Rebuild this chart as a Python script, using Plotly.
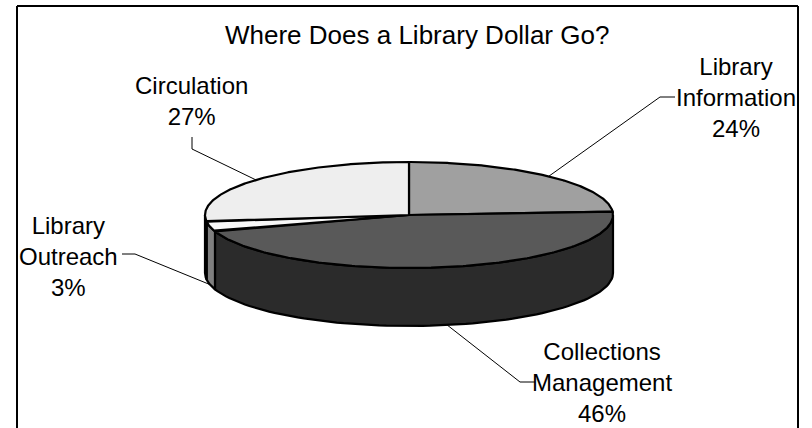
import numpy as np
import plotly.graph_objects as go

# Budget shares (percent of each library dollar)
categories = ["Library Information", "Collections Management", "Library Outreach", "Circulation"]
label_lines = [["Library", "Information"], ["Collections", "Management"], ["Library", "Outreach"], ["Circulation"]]
shares = [24, 46, 3, 27]
top_colors = ["#A0A0A0", "#595959", "#F8F8F8", "#EEEEEE"]
side_colors = ["#505050", "#2B2B2B", "#7F7F7F", "#777777"]

title_text = "Where Does a Library Dollar Go?"

# Canvas / pie geometry (pixel-like coordinates, y grows downward)
W, H = 812, 428
CX, CY, RX, RY, DEPTH = 409, 215, 204, 53, 58
FONT = "Arial, 'Liberation Sans', sans-serif"

# label block centres and leader elbows (label edge point, elbow point)
label_pos = [(736, 97), (602, 382), (68, 256), (191, 101)]
leader_elbow = [((675, 97), (660, 97)), ((535, 382), (520, 382)),
                ((122, 254), (135, 254)), ((192, 137), (192, 149))]


def ell(theta_deg, drop=0.0):
    t = np.radians(theta_deg)
    return CX + RX * np.sin(t), CY - RY * np.cos(t) + drop


total = float(sum(shares))
bounds = np.concatenate([[0.0], np.cumsum(shares) / total * 360.0])

fig = go.Figure()

# side walls (front half only: 90..270 degrees clockwise from 12 o'clock)
for i in range(len(shares)):
    a0, a1 = max(bounds[i], 90.0), min(bounds[i + 1], 270.0)
    if a1 <= a0:
        continue
    th = np.linspace(a0, a1, 80)
    xt, yt = ell(th)
    xb, yb = ell(th[::-1], DEPTH)
    fig.add_trace(go.Scatter(
        x=np.concatenate([xt, xb, xt[:1]]), y=np.concatenate([yt, yb, yt[:1]]),
        mode="lines", fill="toself", fillcolor=side_colors[i],
        line=dict(color="black", width=2.2), hoverinfo="skip", showlegend=False))

# top faces
for i in range(len(shares)):
    th = np.linspace(bounds[i], bounds[i + 1], 200)
    xt, yt = ell(th)
    fig.add_trace(go.Scatter(
        x=np.concatenate([[CX], xt, [CX]]), y=np.concatenate([[CY], yt, [CY]]),
        mode="lines", fill="toself", fillcolor=top_colors[i],
        line=dict(color="black", width=2.2), hoverinfo="skip", showlegend=False))

annotations = []
for i, name in enumerate(categories):
    mid = (bounds[i] + bounds[i + 1]) / 2.0
    front = 90.0 < mid < 270.0
    ax, ay = ell(mid, DEPTH if front else 0.0)
    (ex, ey), (kx, ky) = leader_elbow[i]
    fig.add_trace(go.Scatter(
        x=[ex, kx, ax], y=[ey, ky, ay], mode="lines",
        line=dict(color="black", width=1), hoverinfo="skip", showlegend=False))
    txt = "<br>".join(label_lines[i] + [f"{shares[i]}%"])
    lx, ly = label_pos[i]
    annotations.append(dict(x=lx, y=ly, xref="x", yref="y", text=txt, showarrow=False,
                            xanchor="center", yanchor="middle",
                            font=dict(family=FONT, size=24, color="black")))

annotations.append(dict(x=417, y=35, xref="x", yref="y", text=title_text, showarrow=False,
                        xanchor="center", yanchor="middle",
                        font=dict(family=FONT, size=26, color="black")))

# chart frame (left, top, right edges)
shapes = [
    dict(type="line", xref="x", yref="y", x0=17, x1=17, y0=6, y1=H + 5, line=dict(color="black", width=2)),
    dict(type="line", xref="x", yref="y", x0=17, x1=798, y0=6, y1=6, line=dict(color="black", width=2)),
    dict(type="line", xref="x", yref="y", x0=798, x1=798, y0=6, y1=H + 5, line=dict(color="black", width=2)),
]

fig.update_layout(
    width=W, height=H, margin=dict(l=0, r=0, t=0, b=0),
    paper_bgcolor="white", plot_bgcolor="white",
    xaxis=dict(range=[0, W], visible=False, fixedrange=True),
    yaxis=dict(range=[H, 0], visible=False, fixedrange=True),
    annotations=annotations, shapes=shapes, showlegend=False,
)

fig.write_html("out.html")
